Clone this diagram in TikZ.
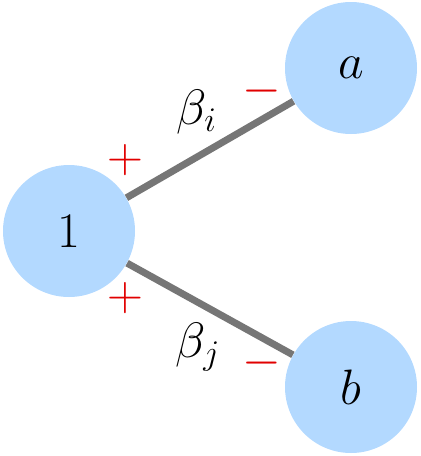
\documentclass[tikz,border=0pt]{standalone}
\usepackage{amsmath,amssymb}
\usetikzlibrary{positioning}

\definecolor{nodeblue}{RGB}{179,217,255}
\definecolor{edgegray}{RGB}{118,118,118}
\definecolor{signred}{RGB}{225,0,0}

\tikzset{
  vertex/.style={circle, fill=nodeblue, minimum size=66pt, inner sep=0pt},
  link/.style={draw=edgegray, line width=3.5pt},
  sign/.style={text=signred, inner sep=0pt}
}

\begin{document}
\begin{tikzpicture}[x=0.5pt, y=-0.5pt, font=\fontsize{27}{32}\selectfont]
\useasboundingbox (0,0) rectangle (420,456);

% Vertices
\node[vertex] (one) at (69,231) {$1$};
\node[vertex] (a) at (351,68) {$a$};
\node[vertex] (b) at (351,387) {$b$};

% Edges
\draw[link] (one) -- (a);
\draw[link] (one) -- (b);

% Weights
\node (bi) at (197,112) {$\beta_i$};
\node (bj) at (198,347) {$\beta_j$};

% Signs
\node[sign] (pi) at (125,160) {$+$};
\node[sign] (mi) at (262,91) {$-$};
\node[sign] (pj) at (125,298) {$+$};
\node[sign] (mj) at (262,363) {$-$};
\end{tikzpicture}
\end{document}
